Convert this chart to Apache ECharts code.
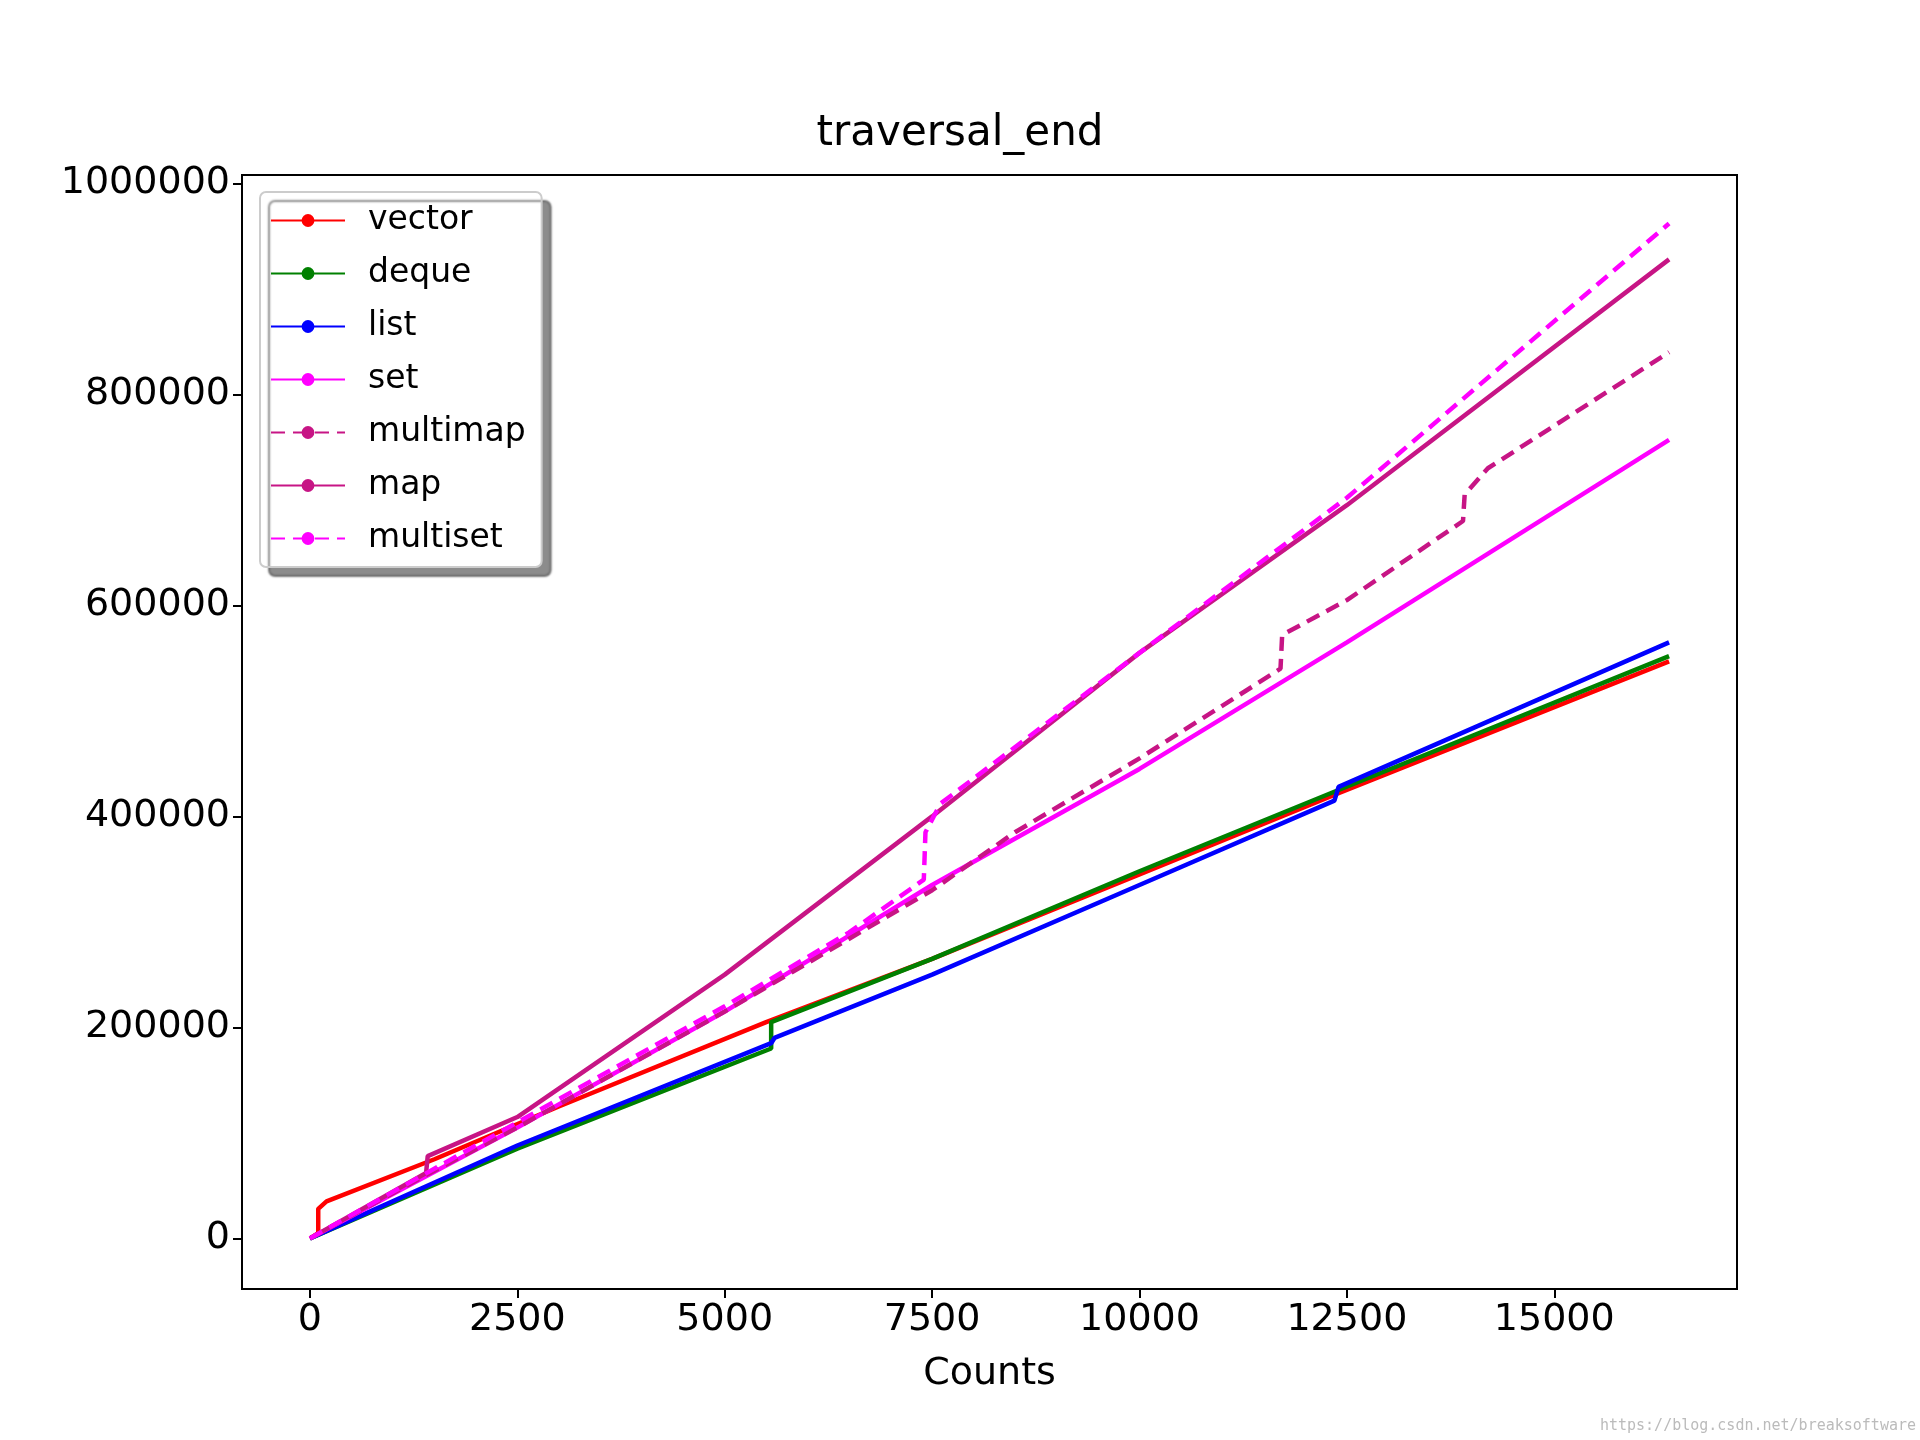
<!DOCTYPE html>
<html>
<head>
<meta charset="UTF-8">
<title>traversal_end</title>
<script src="https://cdn.jsdelivr.net/npm/echarts@6/dist/echarts.min.js"></script>
<style>html,body{margin:0;padding:0;background:#fff}#c{width:1920px;height:1440px}</style>
</head>
<body>
<div id="c"></div>
<script>
var xTicks = [0, 2500, 5000, 7500, 10000, 12500, 15000];
var yTicks = [0, 200000, 400000, 600000, 800000, 1000000];

var vector = [[0,0],[100,5000],[100,28000],[200,35000],[1500,75000],[3000,125000],[5500,205000],[7500,265000],[10000,345000],[12400,422000],[16384,547000]];
var deque = [[0,0],[2500,85000],[5560,180000],[5560,205000],[7500,265000],[10000,348000],[12400,425000],[16384,552000]];
var list = [[0,0],[2500,88000],[5560,185000],[5600,190000],[7500,250000],[10000,335000],[12350,415000],[12400,428000],[16384,565000]];
var set = [[0,0],[2500,105000],[5000,215000],[7500,335000],[10000,445000],[12500,565000],[16384,757000]];
var multimap = [[0,0],[1400,60000],[2500,105000],[5000,215000],[7500,330000],[8500,385000],[10000,455000],[11700,540000],[11720,572000],[12500,605000],[13900,680000],[13920,705000],[14200,730000],[16384,840000]];
var map = [[0,0],[1400,62000],[1420,78000],[2500,115000],[5000,250000],[7500,400000],[10000,555000],[12500,695000],[16384,928000]];
var multiset = [[0,0],[2500,110000],[5000,220000],[6500,290000],[7400,340000],[7420,385000],[7600,412000],[10000,555000],[12500,702000],[16384,962000]];

function s(name, data, color, dashed) {
  return {name: name, type: 'line', data: data, showSymbol: false, symbol: 'none',
    lineStyle: {color: color, width: 4.5, type: dashed ? [14, 8] : 'solid'},
    itemStyle: {color: color}, animation: false};
}
var font = 'DejaVu Sans';
var chart = echarts.init(document.getElementById('c'));
chart.setOption({
  animation: false,
  title: {text: 'traversal_end', left: 'center', top: 108,
    textStyle: {fontFamily: font, fontSize: 42, fontWeight: 'normal', color: '#000'}},
  grid: {left: 242, right: 183, top: 175, bottom: 151, show: true, borderColor: '#000', borderWidth: 2,
    containLabel: false, outerBoundsMode: 'none'},
  legend: {orient: 'vertical', left: 260, top: 192, itemWidth: 74, itemHeight: 16, itemGap: 20,
    padding: [12, 16, 12, 10],
    backgroundColor: '#fff', borderColor: '#ccc', borderWidth: 2, borderRadius: 6,
    shadowColor: 'rgba(0,0,0,0.45)', shadowOffsetX: 9, shadowOffsetY: 9, shadowBlur: 2,
    textStyle: {fontFamily: font, fontSize: 33, color: '#000', padding: [0, 0, 0, 18]},
    data: ['vector','deque','list','set','multimap','map','multiset']},
  xAxis: {type: 'value', min: -819, max: 17203, name: 'Counts', nameLocation: 'middle', nameGap: 66,
    nameTextStyle: {fontFamily: font, fontSize: 38, color: '#000'},
    splitLine: {show: false},
    axisLine: {onZero: false, lineStyle: {color: '#000', width: 2}},
    axisTick: {length: 9, lineStyle: {color: '#000', width: 2}, customValues: xTicks},
    axisLabel: {fontFamily: font, fontSize: 38, color: '#000', margin: 12, customValues: xTicks,
      formatter: function (v) { return String(v); }}},
  yAxis: {type: 'value', min: -48000, max: 1008000, name: 'Nanosecond', nameLocation: 'middle', nameGap: 236,
    nameTextStyle: {fontFamily: font, fontSize: 38, color: '#000'},
    splitLine: {show: false},
    axisLine: {show: true, onZero: false, lineStyle: {color: '#000', width: 2}},
    axisTick: {show: true, length: 9, lineStyle: {color: '#000', width: 2}, customValues: yTicks},
    axisLabel: {fontFamily: font, fontSize: 38, color: '#000', margin: 12, customValues: yTicks,
      formatter: function (v) { return String(v); }}},
  series: [
    s('vector', vector, '#ff0000'),
    s('deque', deque, '#008000'),
    s('list', list, '#0000ff'),
    s('set', set, '#ff00ff'),
    s('multimap', multimap, '#c71585', true),
    s('map', map, '#c71585'),
    s('multiset', multiset, '#ff00ff', true)
  ],
  graphic: [{type: 'text', right: 4, bottom: 6,
    style: {text: 'https://blog.csdn.net/breaksoftware', fontFamily: 'DejaVu Sans Mono', fontSize: 15, fill: '#bbb'}}]
});
</script>
</body>
</html>
